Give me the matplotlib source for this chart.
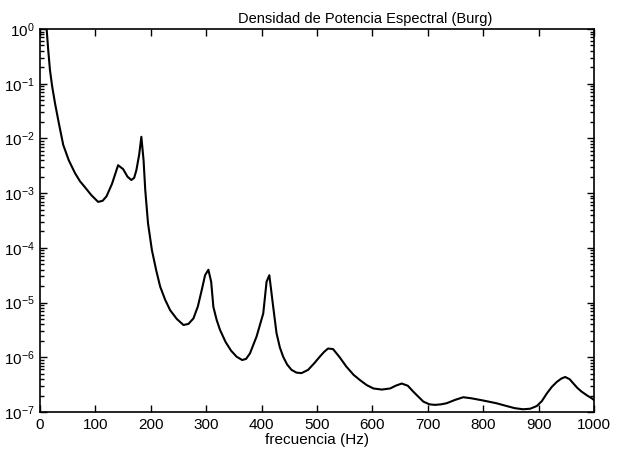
import matplotlib.pyplot as plt
import numpy as np
from matplotlib.ticker import FixedLocator, NullFormatter

plt.rcParams['font.family'] = ['Liberation Sans', 'DejaVu Sans']
plt.rcParams['mathtext.default'] = 'regular'

# Burg PSD estimate, read as (frequency in Hz, log10 of power)
freq = [0, 8, 12, 15, 18, 22, 27, 34, 42, 52, 63, 72, 81, 93, 105, 113, 120,
        130, 141, 150, 158, 165, 170, 174, 179, 183, 187, 190, 195, 202, 210,
        217, 226, 235, 247, 259, 268, 277, 285, 292, 298, 304, 309, 313, 319,
        325, 335, 345, 355, 365, 372, 379, 391, 403, 409, 414, 421, 427, 433,
        439, 446, 454, 463, 472, 484, 495, 505, 513, 520, 529, 541, 553, 566,
        578, 590, 602, 617, 632, 642, 653, 664, 674, 692, 703, 713, 724, 734,
        749, 764, 779, 800, 824, 842, 857, 872, 885, 897, 906, 915, 924, 933,
        941, 948, 956, 963, 970, 978, 988, 996, 1000]
log_psd = [0.6, 0.15, 0.0, -0.4, -0.75, -1.05, -1.35, -1.72, -2.12, -2.40,
           -2.63, -2.78, -2.89, -3.04, -3.16, -3.14, -3.06, -2.83, -2.49,
           -2.56, -2.70, -2.76, -2.72, -2.58, -2.30, -1.97, -2.40, -2.94,
           -3.55, -4.04, -4.42, -4.71, -4.95, -5.14, -5.30, -5.41, -5.39,
           -5.29, -5.07, -4.77, -4.50, -4.40, -4.62, -5.08, -5.32, -5.50,
           -5.72, -5.88, -5.99, -6.05, -6.03, -5.93, -5.62, -5.20, -4.62,
           -4.50, -5.08, -5.56, -5.82, -5.99, -6.13, -6.23, -6.28, -6.29,
           -6.23, -6.11, -5.99, -5.90, -5.84, -5.85, -6.00, -6.17, -6.32,
           -6.42, -6.51, -6.57, -6.59, -6.57, -6.52, -6.48, -6.52, -6.63,
           -6.81, -6.86, -6.87, -6.86, -6.84, -6.78, -6.73, -6.75, -6.79,
           -6.84, -6.89, -6.93, -6.95, -6.94, -6.89, -6.80, -6.66, -6.54,
           -6.45, -6.39, -6.36, -6.40, -6.48, -6.56, -6.63, -6.70, -6.75,
           -6.78]

x_ticks = list(range(0, 1001, 100))
y_exps = list(range(0, -8, -1))

fig = plt.figure(figsize=(6.18, 4.61), dpi=100)
ax = fig.add_axes([0.0647, 0.1063, 0.8964, 0.8308])

ax.semilogy(freq, 10.0 ** np.array(log_psd), color='black', linewidth=1.5)

ax.set_xlim(0, 1000)
ax.set_ylim(1e-7, 1e0)
ax.set_xticks(x_ticks)
ax.set_yticks([10.0 ** e for e in y_exps])
ax.set_yticklabels(['$10^{%d}$' % e for e in y_exps])
minors = [m * 10.0 ** e for e in range(-7, 0) for m in range(2, 10)]
ax.yaxis.set_minor_locator(FixedLocator(minors))
ax.yaxis.set_minor_formatter(NullFormatter())

# matlab style: ticks inside, on every side
ax.tick_params(which='both', direction='in', top=True, right=True,
               labelsize=11, width=1.0)
ax.tick_params(which='major', length=5, pad=4)
ax.tick_params(which='minor', length=3)
for s in ax.spines.values():
    s.set_linewidth(1.2)

ax.set_title('Densidad de Potencia Espectral (Burg)', fontsize=10.5,
             x=0.587, pad=4)
ax.set_xlabel('frecuencia (Hz)', fontsize=11, labelpad=1)

fig.savefig('out.png', dpi=100)
